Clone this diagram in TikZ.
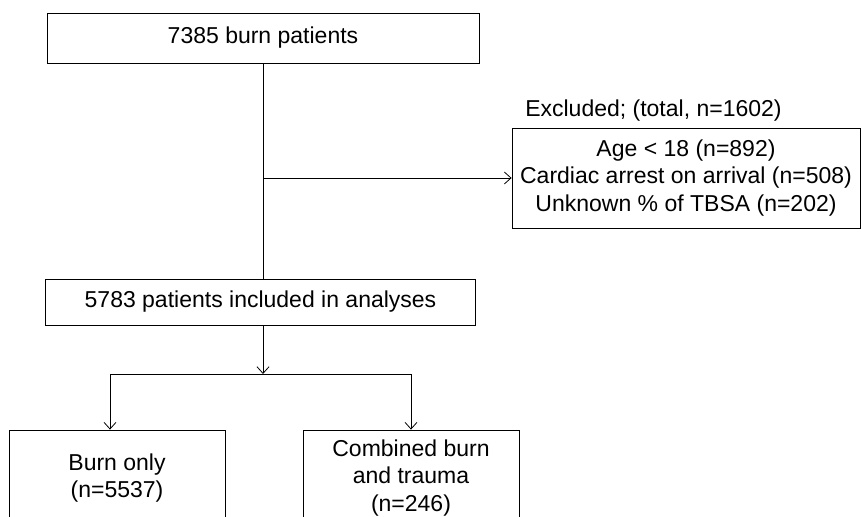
\documentclass[tikz,border=0pt]{standalone}
\usepackage{fontspec}
\setmainfont{Liberation Sans}
\usetikzlibrary{arrows.meta}
\begin{document}
\begin{tikzpicture}[x=0.75pt, y=-0.75pt, boxStyle/.style={rectangle, draw, line width=0.6pt, align=center, inner sep=0pt, font=\fontsize{17.25}{20.5}\selectfont}, lineStyle/.style={line width=0.6pt}, arrowStyle/.style={line width=0.6pt, -{Straight Barb[length=5pt, width=9pt, line width=0.6pt]}}]
                    \useasboundingbox (0, 0) rectangle (861, 517);
                    \node[boxStyle, minimum width=324pt, minimum height=37.5pt] (patients_all)  at (263, 38)    {7385 burn patients};
                    \node[boxStyle, minimum width=261pt, minimum height=75pt]   (excl_box)      at (686, 178)   {Age < 18 (n=892)\\Cardiac arrest on arrival (n=508)\\Unknown \% of TBSA (n=202)};
                    \node[font=\fontsize{17.25}{20.5}\selectfont, inner sep=0pt, anchor=west] (excl_label) at (525, 111) {Excluded; (total, n=1602)};
                    \node[boxStyle, minimum width=323pt, minimum height=34.5pt] (patients_incl) at (260.5, 302) {5783 patients included in analyses};
                    \node[boxStyle, minimum width=162pt, minimum height=72pt]   (burn_only)     at (117, 478)   {Burn only\\(n=5537)};
                    \node[boxStyle, minimum width=162pt, minimum height=72pt]   (burn_trauma)   at (411, 478)   {Combined burn\\and trauma\\(n=246)};
                    \coordinate (excl_branch) at (patients_all.south |- excl_box.west);
                    \coordinate (split_mid)   at (263, 374);
                    \coordinate (split_l)     at (110, 374);
                    \coordinate (split_r)     at (411, 374);
                    \draw[lineStyle]  (patients_all.south) -- (patients_all.south |- patients_incl.north);
                    \draw[arrowStyle] (excl_branch) -- (excl_box.west);
                    \draw[arrowStyle] (patients_incl.south -| split_mid) -- (split_mid);
                    \draw[lineStyle]  (split_l) -- (split_r);
                    \draw[arrowStyle] (split_l) -- (split_l |- burn_only.north);
                    \draw[arrowStyle] (split_r) -- (burn_trauma.north);
                \end{tikzpicture}
\end{document}
